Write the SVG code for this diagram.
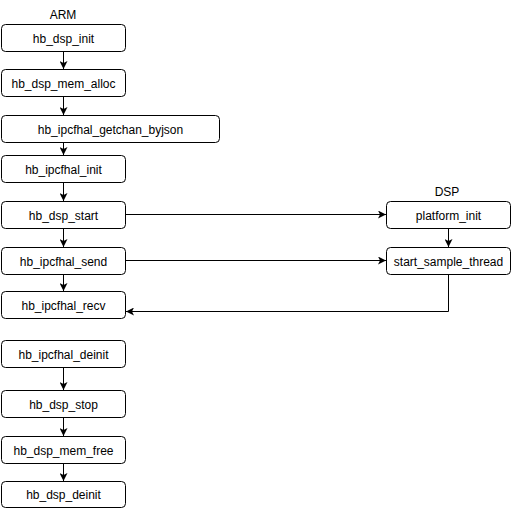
<svg xmlns="http://www.w3.org/2000/svg" width="513" height="509" viewBox="0 0 513 509">
<style>
.n rect{fill:#fff;stroke:#000;stroke-width:1}
text{font-family:"Liberation Sans",Arial,sans-serif;font-size:12px;fill:#000;text-anchor:middle}
.c path{fill:none;stroke:#000;stroke-width:1}
</style>
<defs>
<marker id="a" viewBox="0 0 10 10" refX="10" refY="5" markerWidth="8" markerHeight="8" markerUnits="userSpaceOnUse" orient="auto">
<path d="M0,0 L10,5 L0,10 L2.5,5 Z" fill="#000"/>
</marker>
</defs>
<rect width="513" height="509" fill="#fff"/>
<text x="63" y="19">ARM</text>
<text x="447" y="195.5">DSP</text>
<g class="c">
<path d="M63.5,51 V69" marker-end="url(#a)"/>
<path d="M63.5,96 V115" marker-end="url(#a)"/>
<path d="M63.5,142 V155" marker-end="url(#a)"/>
<path d="M63.5,182 V201" marker-end="url(#a)"/>
<path d="M63.5,228 V247" marker-end="url(#a)"/>
<path d="M63.5,274 V291" marker-end="url(#a)"/>
<path d="M63.5,367 V390" marker-end="url(#a)"/>
<path d="M63.5,417 V436" marker-end="url(#a)"/>
<path d="M63.5,463 V481" marker-end="url(#a)"/>
<path d="M126,214.5 H386" marker-end="url(#a)"/>
<path d="M126,260.5 H386" marker-end="url(#a)"/>
<path d="M448.5,228 V247" marker-end="url(#a)"/>
<path d="M448.5,274 V311.5 H126" marker-end="url(#a)"/>
</g>
<g id="n1" class="n"><rect x="1.5" y="24.5" width="124" height="27" rx="4"/><text x="63.5" y="42.5">hb_dsp_init</text></g>
<g id="n2" class="n"><rect x="1.5" y="69.5" width="124" height="27" rx="4"/><text x="63.5" y="87.5">hb_dsp_mem_alloc</text></g>
<g id="n3" class="n"><rect x="1.5" y="115.5" width="218" height="27" rx="4"/><text x="110.5" y="133.5">hb_ipcfhal_getchan_byjson</text></g>
<g id="n4" class="n"><rect x="1.5" y="155.5" width="124" height="27" rx="4"/><text x="63.5" y="173.5">hb_ipcfhal_init</text></g>
<g id="n5" class="n"><rect x="1.5" y="201.5" width="124" height="27" rx="4"/><text x="63.5" y="219.5">hb_dsp_start</text></g>
<g id="n6" class="n"><rect x="1.5" y="247.5" width="124" height="27" rx="4"/><text x="63.5" y="265.5">hb_ipcfhal_send</text></g>
<g id="n7" class="n"><rect x="1.5" y="291.5" width="124" height="27" rx="4"/><text x="63.5" y="309.5">hb_ipcfhal_recv</text></g>
<g id="n8" class="n"><rect x="1.5" y="340.5" width="124" height="27" rx="4"/><text x="63.5" y="358.5">hb_ipcfhal_deinit</text></g>
<g id="n9" class="n"><rect x="1.5" y="390.5" width="124" height="27" rx="4"/><text x="63.5" y="408.5">hb_dsp_stop</text></g>
<g id="n10" class="n"><rect x="1.5" y="436.5" width="124" height="27" rx="4"/><text x="63.5" y="454.5">hb_dsp_mem_free</text></g>
<g id="n11" class="n"><rect x="1.5" y="481.5" width="124" height="26" rx="4"/><text x="63.5" y="499">hb_dsp_deinit</text></g>
<g id="d1" class="n"><rect x="386.5" y="201.5" width="124" height="27" rx="4"/><text x="448.5" y="219.5">platform_init</text></g>
<g id="d2" class="n"><rect x="386.5" y="247.5" width="124" height="27" rx="4"/><text x="448.5" y="265.5">start_sample_thread</text></g>
</svg>
